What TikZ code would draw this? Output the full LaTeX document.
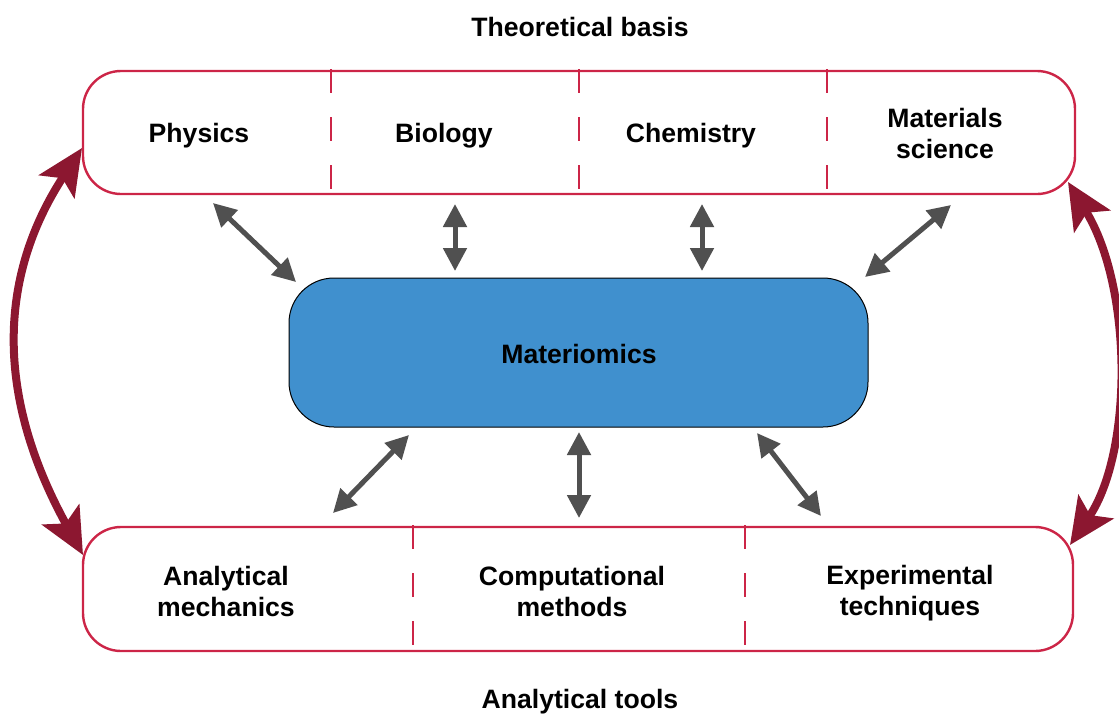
\documentclass[tikz,border=0pt]{standalone}
\usepackage{fontspec}
\setmainfont{Liberation Sans}
\usetikzlibrary{arrows.meta}
\definecolor{boxred}{HTML}{CC2547}
\definecolor{arrred}{HTML}{8C1730}
\definecolor{arrgray}{HTML}{505050}
\definecolor{mblue}{HTML}{4090CE}
\begin{document}
\begin{tikzpicture}[x=1pt,y=-1pt,
  lbl/.style={font=\fontsize{26.6}{31}\selectfont\bfseries, align=center, inner sep=0pt},
  group/.style={draw=boxred, line width=2.4pt, rounded corners=38pt, rectangle, inner sep=0pt, outer sep=0pt},
  divider/.style={draw=boxred, line width=2.6pt, dash pattern=on 24pt off 24pt},
  core/.style={draw=black, line width=1pt, fill=mblue, rounded corners=45pt, rectangle, inner sep=0pt, outer sep=0pt, minimum width=579pt, minimum height=149pt},
  link/.style={draw=arrgray, line width=5pt, {Triangle[length=23pt,width=23pt]}-{Triangle[length=23pt,width=23pt]}},
  loop/.style={draw=arrred, line width=8pt, {Stealth[length=46pt,width=42pt,inset=10pt]}-{Stealth[length=46pt,width=42pt,inset=10pt]}}
]
\useasboundingbox (0,0) rectangle (1119,715);

% boxes
\node[group, minimum width=992pt, minimum height=123pt] (top) at (579,132.5) {};
\node[group, minimum width=990pt, minimum height=124pt] (bot) at (578,589) {};
\node[core] (core) at (578.5,352.5) {};

% dividers
\foreach \x/\n in {331/a,579/b,827/c} {
  \coordinate (td\n1) at (\x,69);
  \coordinate (td\n2) at (\x,189);
  \draw[divider] (td\n1) -- (td\n2);
}
\foreach \x/\n in {413/a,745/b} {
  \coordinate (bd\n1) at (\x,525);
  \coordinate (bd\n2) at (\x,645);
  \draw[divider] (bd\n1) -- (bd\n2);
}

% labels
\node[lbl] (title) at (580,27) {Theoretical basis};
\node[lbl] (phys) at (199,136) {Physics};
\node[lbl] (bio) at (444,136) {Biology};
\node[lbl] (chem) at (691,136) {Chemistry};
\node[lbl] (mat) at (945,133) {Materials\\science};
\node[lbl] (mtx) at (579,354) {Materiomics};
\node[lbl] (am) at (226,591) {Analytical\\mechanics};
\node[lbl] (cm) at (572,591) {Computational\\methods};
\node[lbl] (et) at (910,593) {Experimental\\techniques};
\node[lbl] (tools) at (580,702) {Analytical tools};

% gray links
\coordinate (l1a) at (213,203); \coordinate (l1b) at (296,282);
\coordinate (l2a) at (455,204); \coordinate (l2b) at (455,271);
\coordinate (l3a) at (702,204); \coordinate (l3b) at (702,271);
\coordinate (l4a) at (951,205); \coordinate (l4b) at (865,277);
\coordinate (l5a) at (409,435); \coordinate (l5b) at (333,513);
\coordinate (l6a) at (579,432); \coordinate (l6b) at (579,518);
\coordinate (l7a) at (757,433); \coordinate (l7b) at (821,516);
\foreach \i in {1,...,7} { \draw[link] (l\i a) -- (l\i b); }

% red loops
\coordinate (lt) at (82,148);
\coordinate (lb) at (83,555);
\coordinate (rt) at (1068,182);
\coordinate (rb) at (1070,545);
\draw[loop] (lt) .. controls (-3.5,279) and (-3.5,398) .. (lb);
\draw[loop] (rt) .. controls (1133,288) and (1133,452) .. (rb);
\end{tikzpicture}
\end{document}
